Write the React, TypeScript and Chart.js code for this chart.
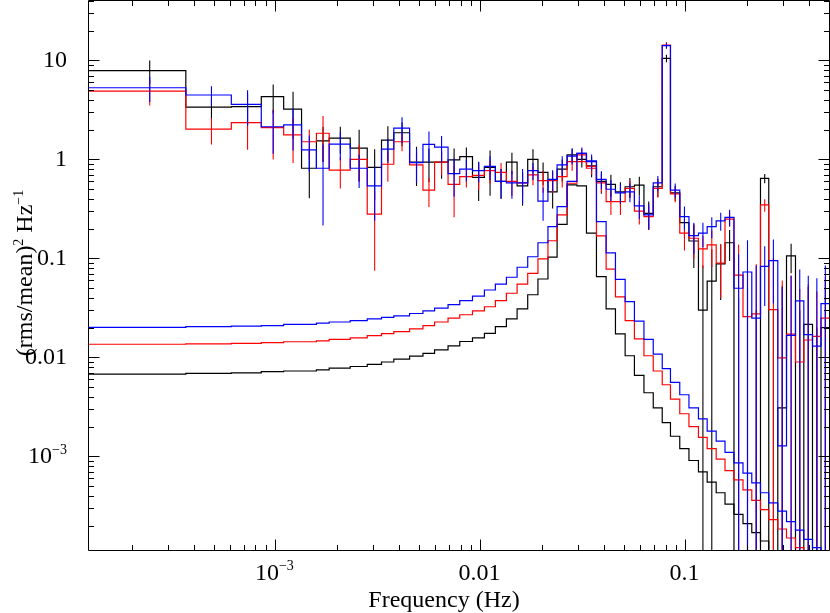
import React, { useEffect, useRef } from 'react';
import { Chart, registerables } from 'chart.js';

Chart.register(...registerables);

// Frequency bin edges (Hz)
const EDGES = [
  1.22e-4, 3.66e-4, 6.10e-4, 8.54e-4, 1.098e-3, 1.342e-3, 1.586e-3, 1.830e-3, 2.318e-3,
  2.806e-3, 3.294e-3, 3.782e-3, 4.514e-3, 5.246e-3, 5.978e-3, 6.954e-3, 7.930e-3, 9.15e-3,
  0.01046, 0.01183, 0.01339, 0.01510, 0.01701, 0.01908, 0.02135, 0.02366, 0.02647, 0.02956,
  0.03290, 0.03681, 0.04103, 0.04556, 0.05080, 0.05638, 0.06274, 0.06965, 0.07704, 0.08450,
  0.09380, 0.1040, 0.1157, 0.1276, 0.1412, 0.1559, 0.1724, 0.1908, 0.2106, 0.2322, 0.2548,
  0.2820, 0.3110, 0.3440, 0.3777, 0.4164, 0.4581, 0.5040,
];

// Data power (rms/mean)^2/Hz and 1-sigma errors
const BLACK = [
  7.9, 3.37, 3.41, 4.32, 3.23, 0.815, 1.54, 1.64, 1.30, 0.83, 1.57, 1.86, 0.94, 0.94, 0.94,
  0.99, 1.07, 0.66, 0.83, 0.60, 0.94, 0.54, 1.0, 0.74, 0.47, 0.80, 1.11, 1.0, 0.86, 0.60,
  0.56, 0.47, 0.53, 0.55, 0.285, 0.53, 10.5, 0.46, 0.23, 0.15, 0.030, 0.059, 0.088, 0.144,
  -0.02, -0.03, -0.02, 0.645, -0.05, 0.0031, 0.106, -0.01, 0.0216, -0.03, 0.02,
];
const BLACK_ERR = [
  2.1, 0.75, 1.2, 1.4, 1.6, 0.41, 0.6, 0.5, 0.7, 0.44, 0.6, 0.5, 0.4, 0.35, 0.3, 0.3, 0.25,
  0.28, 0.4, 0.2, 0.23, 0.2, 0.27, 0.19, 0.15, 0.2, 0.19, 0.17, 0.2, 0.15, 0.14, 0.12, 0.12,
  0.12, 0.09, 0.11, 0.9, 0.08, 0.07, 0.07, 0.055, 0.065, 0.05, 0.05, 0.06, 0.08, 0.05, 0.07,
  0.08, 0.05, 0.035, 0.04, 0.03, 0.05, 0.04,
];
const RED = [
  4.9, 2.02, 2.35, 2.1, 1.77, 1.51, 1.84, 0.78, 1.0, 0.28, 0.894, 1.51, 0.88, 0.49, 0.94,
  0.56, 0.67, 0.69, 0.77, 0.74, 0.60, 0.58, 0.70, 0.61, 0.61, 0.67, 0.95, 1.11, 0.85, 0.58,
  0.375, 0.375, 0.51, 0.30, 0.265, 0.51, 14.3, 0.45, 0.18, 0.16, 0.125, 0.137, 0.09, 0.25,
  0.068, 0.0258, 0.0275, 0.347, 0.0304, 0.0099, 0.0172, 0.009, 0.015, 0.0163, 0.025,
];
const RED_ERR = [
  1.4, 0.6, 1.1, 1.1, 0.85, 0.5, 0.9, 0.27, 0.4, 0.205, 0.3, 0.3, 0.3, 0.16, 0.25, 0.3, 0.15,
  0.2, 0.2, 0.18, 0.17, 0.15, 0.15, 0.15, 0.15, 0.15, 0.18, 0.17, 0.15, 0.12, 0.1, 0.1, 0.1,
  0.08, 0.07, 0.1, 1.0, 0.08, 0.06, 0.06, 0.045, 0.055, 0.05, 0.04, 0.07, 0.05, 0.06, 0.05,
  0.07, 0.05, 0.05, 0.04, 0.04, 0.03, 0.04,
];
const BLUE = [
  5.3, 4.48, 3.6, 2.14, 2.23, 1.25, 0.815, 1.43, 0.815, 0.54, 1.27, 2.07, 0.93, 1.42, 1.33,
  0.72, 0.80, 0.77, 0.85, 0.60, 0.58, 0.58, 0.77, 0.38, 0.63, 0.88, 1.08, 1.15, 0.95, 0.63,
  0.50, 0.46, 0.47, 0.34, 0.275, 0.58, 14.1, 0.49, 0.265, 0.17, 0.18, 0.21, 0.24, 0.26, 0.05,
  0.073, 0.025, 0.083, 0.095, 0.00128, 0.0167, 0.0372, 0.017, 0.013, 0.035,
];
const BLUE_ERR = [
  1.5, 1.0, 1.4, 1.0, 1.0, 0.5, 0.6, 0.45, 0.3, 0.3, 0.35, 0.6, 0.35, 0.5, 0.4, 0.3, 0.2,
  0.18, 0.23, 0.2, 0.18, 0.22, 0.15, 0.14, 0.15, 0.2, 0.19, 0.17, 0.17, 0.13, 0.12, 0.1, 0.1,
  0.09, 0.08, 0.1, 1.0, 0.08, 0.07, 0.06, 0.05, 0.05, 0.05, 0.05, 0.06, 0.08, 0.06, 0.05,
  0.06, 0.05, 0.05, 0.04, 0.05, 0.05, 0.05,
];

// Model (QPO Lorentzian component) per bin
const BLACK_MODEL = [
  0.0068, 0.0069, 0.0070, 0.0072, 0.0073, 0.0073, 0.0075, 0.0078, 0.0081, 0.0085, 0.009,
  0.0096, 0.0103, 0.011, 0.0119, 0.0131, 0.0145, 0.0158, 0.0175, 0.0205, 0.0245, 0.031, 0.043,
  0.062, 0.103, 0.221, 0.553, 0.54, 0.18, 0.0655, 0.031, 0.0173, 0.0104, 0.0066, 0.0044,
  0.0031, 0.0022, 0.0016, 0.0012, 0.00091, 0.0007, 0.00055, 0.00043, 0.00033, 0.00026,
  0.00021, 0.00017, 0.00014, 0.000112, 0.00009, 0.000073, 0.00006, 0.00005, 0.00004, 0.000033,
];
const RED_MODEL = [
  0.0136, 0.0137, 0.0139, 0.0141, 0.0144, 0.0144, 0.0147, 0.0152, 0.0158, 0.0166, 0.0174,
  0.0182, 0.0194, 0.021, 0.0228, 0.025, 0.027, 0.0295, 0.0325, 0.0375, 0.0445, 0.055, 0.0708,
  0.099, 0.151, 0.275, 0.575, 0.95, 0.815, 0.169, 0.078, 0.041, 0.0236, 0.0154, 0.0104,
  0.0073, 0.0053, 0.0038, 0.0027, 0.002, 0.00156, 0.0012, 0.00094, 0.00072, 0.00058, 0.00046,
  0.00036, 0.00029, 0.00023, 0.000185, 0.00015, 0.00012, 0.000095, 0.000075, 0.00006,
];
const BLUE_MODEL = [
  0.0201, 0.0205, 0.0207, 0.021, 0.0216, 0.0216, 0.0222, 0.0228, 0.0236, 0.0245, 0.0254,
  0.0263, 0.0278, 0.0295, 0.0315, 0.0342, 0.0375, 0.0416, 0.048, 0.055, 0.0646, 0.0815, 0.104,
  0.144, 0.21, 0.334, 0.60, 1.15, 0.97, 0.236, 0.114, 0.0616, 0.0366, 0.0233, 0.0152, 0.0108,
  0.0077, 0.0056, 0.0042, 0.0031, 0.0024, 0.0018, 0.00143, 0.0011, 0.00086, 0.00068, 0.00054,
  0.00043, 0.00034, 0.00028, 0.00022, 0.00018, 0.000145, 0.00012, 0.000095,
];

const X_TICKS = [1e-3, 0.01, 0.1];
const X_TICK_LABELS = [['10', '\u22123'], ['0.01', ''], ['0.1', '']];
const Y_TICKS = [10, 1, 0.1, 0.01, 1e-3];
const Y_TICK_LABELS = [['10', ''], ['1', ''], ['0.1', ''], ['0.01', ''], ['10', '\u22123']];
const X_TITLE = 'Frequency (Hz)';
const Y_TITLE = [['(rms/mean)', '2'], [' Hz', '\u22121']];

const X_MIN = 1.22e-4;
const X_MAX = 0.504;
const Y_MIN = 1.109e-4;
const Y_MAX = 40.8;
const FLOOR = 1e-7;

const FONT = '"Liberation Serif", "Times New Roman", serif';

function stepPoints(vals: number[]) {
  const pts: { x: number; y: number }[] = [];
  for (let i = 0; i < vals.length; i++) {
    const v = vals[i] > 0 ? vals[i] : FLOOR;
    pts.push({ x: EDGES[i], y: v }, { x: EDGES[i + 1], y: v });
  }
  return pts;
}

function errPoints(vals: number[], errs: number[]) {
  const pts: { x: number; y: number | null }[] = [];
  for (let i = 0; i < vals.length; i++) {
    const c = (EDGES[i] + EDGES[i + 1]) / 2;
    const lo = vals[i] - errs[i];
    const hi = vals[i] + errs[i];
    pts.push({ x: c, y: lo > 0 ? lo : FLOOR }, { x: c, y: hi > 0 ? hi : FLOOR }, { x: c, y: null });
  }
  return pts;
}

function drawSupText(ctx: CanvasRenderingContext2D, parts: string[][], x: number, y: number, align: string) {
  const widths: number[][] = [];
  let total = 0;
  for (const [b, s] of parts) {
    ctx.font = `24px ${FONT}`;
    const wb = ctx.measureText(b).width;
    ctx.font = `14px ${FONT}`;
    const ws = s ? ctx.measureText(s).width : 0;
    widths.push([wb, ws]);
    total += wb + ws;
  }
  let cx = align === 'center' ? x - total / 2 : align === 'right' ? x - total : x;
  ctx.textAlign = 'left';
  ctx.textBaseline = 'alphabetic';
  parts.forEach(([b, s], i) => {
    ctx.font = `24px ${FONT}`;
    ctx.fillText(b, cx, y);
    cx += widths[i][0];
    if (s) {
      ctx.font = `14px ${FONT}`;
      ctx.fillText(s, cx, y - 9.5);
      cx += widths[i][1];
    }
  });
}

const axesPlugin = {
  id: 'qdpAxes',
  afterDraw(chart: any) {
    const { ctx, chartArea: a, scales } = chart;
    const xs = scales.x;
    const ys = scales.y;
    ctx.save();
    ctx.strokeStyle = '#000';
    ctx.fillStyle = '#000';
    ctx.lineWidth = 1;
    const L = Math.round(a.left) + 0.5;
    const R = Math.round(a.right) - 0.5;
    const T = Math.round(a.top) + 0.5;
    const B = Math.round(a.bottom) - 0.5;
    ctx.beginPath();
    ctx.rect(L, T, R - L, B - T);
    ctx.stroke();

    ctx.beginPath();
    for (let d = -5; d <= 1; d++) {
      for (let m = 1; m <= 9; m++) {
        const v = m * Math.pow(10, d);
        const len = m === 1 ? 11 : 5.5;
        if (v >= X_MIN && v <= X_MAX) {
          const px = Math.round(xs.getPixelForValue(v)) + 0.5;
          ctx.moveTo(px, B);
          ctx.lineTo(px, B - len);
          ctx.moveTo(px, T);
          ctx.lineTo(px, T + len);
        }
        if (v >= Y_MIN && v <= Y_MAX) {
          const py = Math.round(ys.getPixelForValue(v)) + 0.5;
          ctx.moveTo(L, py);
          ctx.lineTo(L + len, py);
          ctx.moveTo(R, py);
          ctx.lineTo(R - len, py);
        }
      }
    }
    ctx.stroke();

    X_TICKS.forEach((v, i) => {
      drawSupText(ctx, [X_TICK_LABELS[i]], xs.getPixelForValue(v) - 1, 579.5, 'center');
    });
    Y_TICKS.forEach((v, i) => {
      drawSupText(ctx, [Y_TICK_LABELS[i]], 67, ys.getPixelForValue(v) + 7, 'right');
    });

    ctx.font = `24px ${FONT}`;
    ctx.textAlign = 'center';
    ctx.textBaseline = 'alphabetic';
    ctx.fillText(X_TITLE, 444, 606.5);
    ctx.restore();

    // rotated y-axis title
    ctx.save();
    ctx.fillStyle = '#000';
    ctx.setTransform(0, -1, 1, 0, 32, 273);
    drawSupText(ctx, Y_TITLE, 0, 0, 'center');
    ctx.restore();
  },
};

export default function App() {
  const ref = useRef<HTMLCanvasElement | null>(null);
  useEffect(() => {
    if (!ref.current) return;
    const series = [
      { vals: BLUE, errs: BLUE_ERR, model: BLUE_MODEL, color: '#0000ff' },
      { vals: RED, errs: RED_ERR, model: RED_MODEL, color: '#ff0000' },
      { vals: BLACK, errs: BLACK_ERR, model: BLACK_MODEL, color: '#000000' },
    ];
    const datasets: any[] = [];
    series.forEach((s) => {
      datasets.push({
        data: stepPoints(s.vals),
        borderColor: s.color,
        borderWidth: 1.2,
        pointRadius: 0,
        fill: false,
        tension: 0,
      });
      datasets.push({
        data: errPoints(s.vals, s.errs),
        borderColor: s.color,
        borderWidth: 1.1,
        pointRadius: 0,
        fill: false,
        spanGaps: false,
        tension: 0,
      });
      datasets.push({
        data: stepPoints(s.model),
        borderColor: s.color,
        borderWidth: 1.2,
        pointRadius: 0,
        fill: false,
        tension: 0,
      });
    });
    const chart = new Chart(ref.current, {
      type: 'line',
      data: { datasets },
      options: {
        responsive: false,
        animation: false,
        devicePixelRatio: 1,
        events: [],
        layout: { padding: { left: 88, right: 0.5, top: 0, bottom: 62 } },
        plugins: { legend: { display: false }, tooltip: { enabled: false } },
        scales: {
          x: { type: 'logarithmic', min: X_MIN, max: X_MAX, display: false, bounds: 'data' },
          y: { type: 'logarithmic', min: Y_MIN, max: Y_MAX, display: false, bounds: 'data' },
        },
      } as any,
      plugins: [axesPlugin],
    });
    return () => chart.destroy();
  }, []);
  return (
    <div style={{ position: 'fixed', left: 0, top: 0, width: 830, height: 613, background: '#fff' }}>
      <canvas ref={ref} width={830} height={613} style={{ display: 'block' }} />
    </div>
  );
}
